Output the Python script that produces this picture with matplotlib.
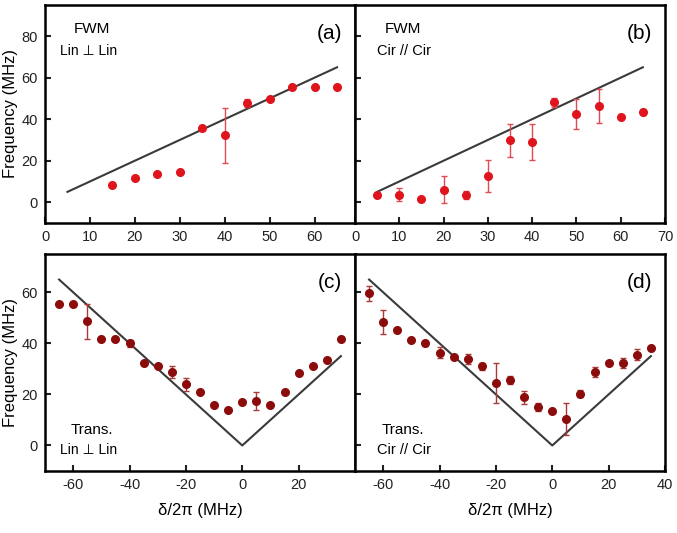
import numpy as np
import matplotlib
matplotlib.use('Agg')
import matplotlib.pyplot as plt

plt.rcParams['font.family'] = ['Liberation Sans', 'DejaVu Sans']
plt.rcParams['axes.unicode_minus'] = False

# (a) FWM, Lin perp Lin
a_x = [15, 20, 25, 30, 35, 40, 45, 50, 55, 60, 65]
a_y = [8.4, 11.9, 13.4, 14.8, 35.7, 32.2, 47.8, 49.9, 55.4, 55.4, 55.4]
a_err = [0, 0, 0, 0, 0, 13.1, 2.0, 0, 0, 0, 0]

# (b) FWM, Cir // Cir
b_x = [5, 10, 15, 20, 25, 30, 35, 40, 45, 50, 55, 60, 65]
b_y = [3.5, 3.7, 1.4, 6.1, 3.5, 12.7, 29.8, 29.0, 48.1, 42.5, 46.5, 41.2, 43.6]
b_err = [0, 3.0, 0, 6.3, 2.0, 7.7, 7.8, 8.7, 2.0, 7.3, 8.2, 0, 1.5]

# (c) Trans., Lin perp Lin
c_x = list(range(-65, 40, 5))
c_y = [55.6, 55.6, 48.6, 41.7, 41.7, 40.0, 32.3, 31.2, 28.8, 23.9, 20.8,
       15.8, 13.7, 16.9, 17.3, 15.7, 20.8, 28.5, 31.2, 33.3, 41.7]
c_err = [0, 0, 7.0, 0, 0, 1.5, 0, 0, 2.5, 2.5, 0,
         0, 0, 0, 3.6, 0, 0, 0, 0, 0, 0]

# (d) Trans., Cir // Cir
d_x = list(range(-65, 40, 5))
d_y = [59.6, 48.4, 45.1, 41.3, 40.0, 36.3, 34.5, 34.0, 31.0, 24.6, 25.6,
       18.8, 15.0, 13.6, 10.3, 20.3, 28.8, 32.4, 32.4, 35.6, 38.2]
d_err = [3.0, 4.8, 0, 0, 1.0, 2.2, 0, 2.0, 1.5, 7.8, 1.5,
         2.5, 1.5, 0, 6.2, 1.5, 2.0, 0, 2.0, 2.0, 0]

# guide lines
fwm_line_x = [5, 65]
fwm_line_y = [5, 65]
trans_line_x = [-65, 0, 35]
trans_line_y = [65, 0, 35]

top_red = '#e0141c'
top_err = '#e04a52'
bot_red = '#8c0c0c'
bot_err = '#a83a3a'
line_col = '#3a3a3a'

fig = plt.figure(figsize=(6.77, 5.33), dpi=100)
W, H = 677, 533

def make_ax(x0, y_top, y_bot, x1):
    return fig.add_axes([x0 / W, 1 - y_bot / H, (x1 - x0) / W, (y_bot - y_top) / H])

ax_a = make_ax(45, 5, 223, 355)
ax_b = make_ax(355, 5, 223, 665)
ax_c = make_ax(45, 254, 471, 355)
ax_d = make_ax(355, 254, 471, 665)

panels = [
    (ax_a, a_x, a_y, a_err, fwm_line_x, fwm_line_y, top_red, top_err, '(a)'),
    (ax_b, b_x, b_y, b_err, fwm_line_x, fwm_line_y, top_red, top_err, '(b)'),
    (ax_c, c_x, c_y, c_err, trans_line_x, trans_line_y, bot_red, bot_err, '(c)'),
    (ax_d, d_x, d_y, d_err, trans_line_x, trans_line_y, bot_red, bot_err, '(d)'),
]

for ax, x, y, err, lx, ly, col, ecol, tag in panels:
    ax.plot(lx, ly, color=line_col, lw=1.5, zorder=2)
    ax.errorbar(x, y, yerr=err, fmt='none', ecolor=ecol, elinewidth=1.0,
                capsize=2.5, capthick=1.0, zorder=3)
    ax.plot(x, y, 'o', color=col, ms=5.5, mec=col, zorder=4)
    for s in ax.spines.values():
        s.set_linewidth(1.8)
        s.set_color('black')
    ax.tick_params(direction='in', length=4, width=1.5, labelsize=10.5,
                   colors='#222222', pad=5)
    ax.text(0.958, 0.87, tag, transform=ax.transAxes, ha='right', va='center', fontsize=15)

ax_a.set_xlim(0, 69)
ax_b.set_xlim(0, 70)
for ax in (ax_a, ax_b):
    ax.set_ylim(-10, 95)
    ax.set_yticks([0, 20, 40, 60, 80])
ax_a.set_xticks([0, 10, 20, 30, 40, 50, 60])
ax_b.set_xticks([0, 10, 20, 30, 40, 50, 60, 70])

for ax in (ax_c, ax_d):
    ax.set_xlim(-70, 40)
    ax.set_ylim(-10, 75)
    ax.set_yticks([0, 20, 40, 60])
    ax.set_xlabel('\u03b4/2\u03c0 (MHz)', fontsize=12, labelpad=8)
ax_c.set_xticks([-60, -40, -20, 0, 20])
ax_d.set_xticks([-60, -40, -20, 0, 20, 40])

for ax in (ax_b, ax_d):
    ax.tick_params(labelleft=False)

for ax in (ax_a, ax_c):
    ax.set_ylabel('Frequency (MHz)', fontsize=12, labelpad=3)

# panel annotations
ax_a.text(0.15, 0.89, 'FWM', transform=ax_a.transAxes, ha='center', va='center', fontsize=11)
ax_a.text(0.14, 0.79, 'Lin \u22a5 Lin', transform=ax_a.transAxes, ha='center', va='center', fontsize=10)
ax_b.text(0.155, 0.89, 'FWM', transform=ax_b.transAxes, ha='center', va='center', fontsize=11)
ax_b.text(0.158, 0.79, 'Cir // Cir', transform=ax_b.transAxes, ha='center', va='center', fontsize=10.5)
ax_c.text(0.15, 0.19, 'Trans.', transform=ax_c.transAxes, ha='center', va='center', fontsize=11)
ax_c.text(0.14, 0.097, 'Lin \u22a5 Lin', transform=ax_c.transAxes, ha='center', va='center', fontsize=10)
ax_d.text(0.155, 0.19, 'Trans.', transform=ax_d.transAxes, ha='center', va='center', fontsize=11)
ax_d.text(0.158, 0.097, 'Cir // Cir', transform=ax_d.transAxes, ha='center', va='center', fontsize=10.5)

fig.savefig('out.png', dpi=100)
